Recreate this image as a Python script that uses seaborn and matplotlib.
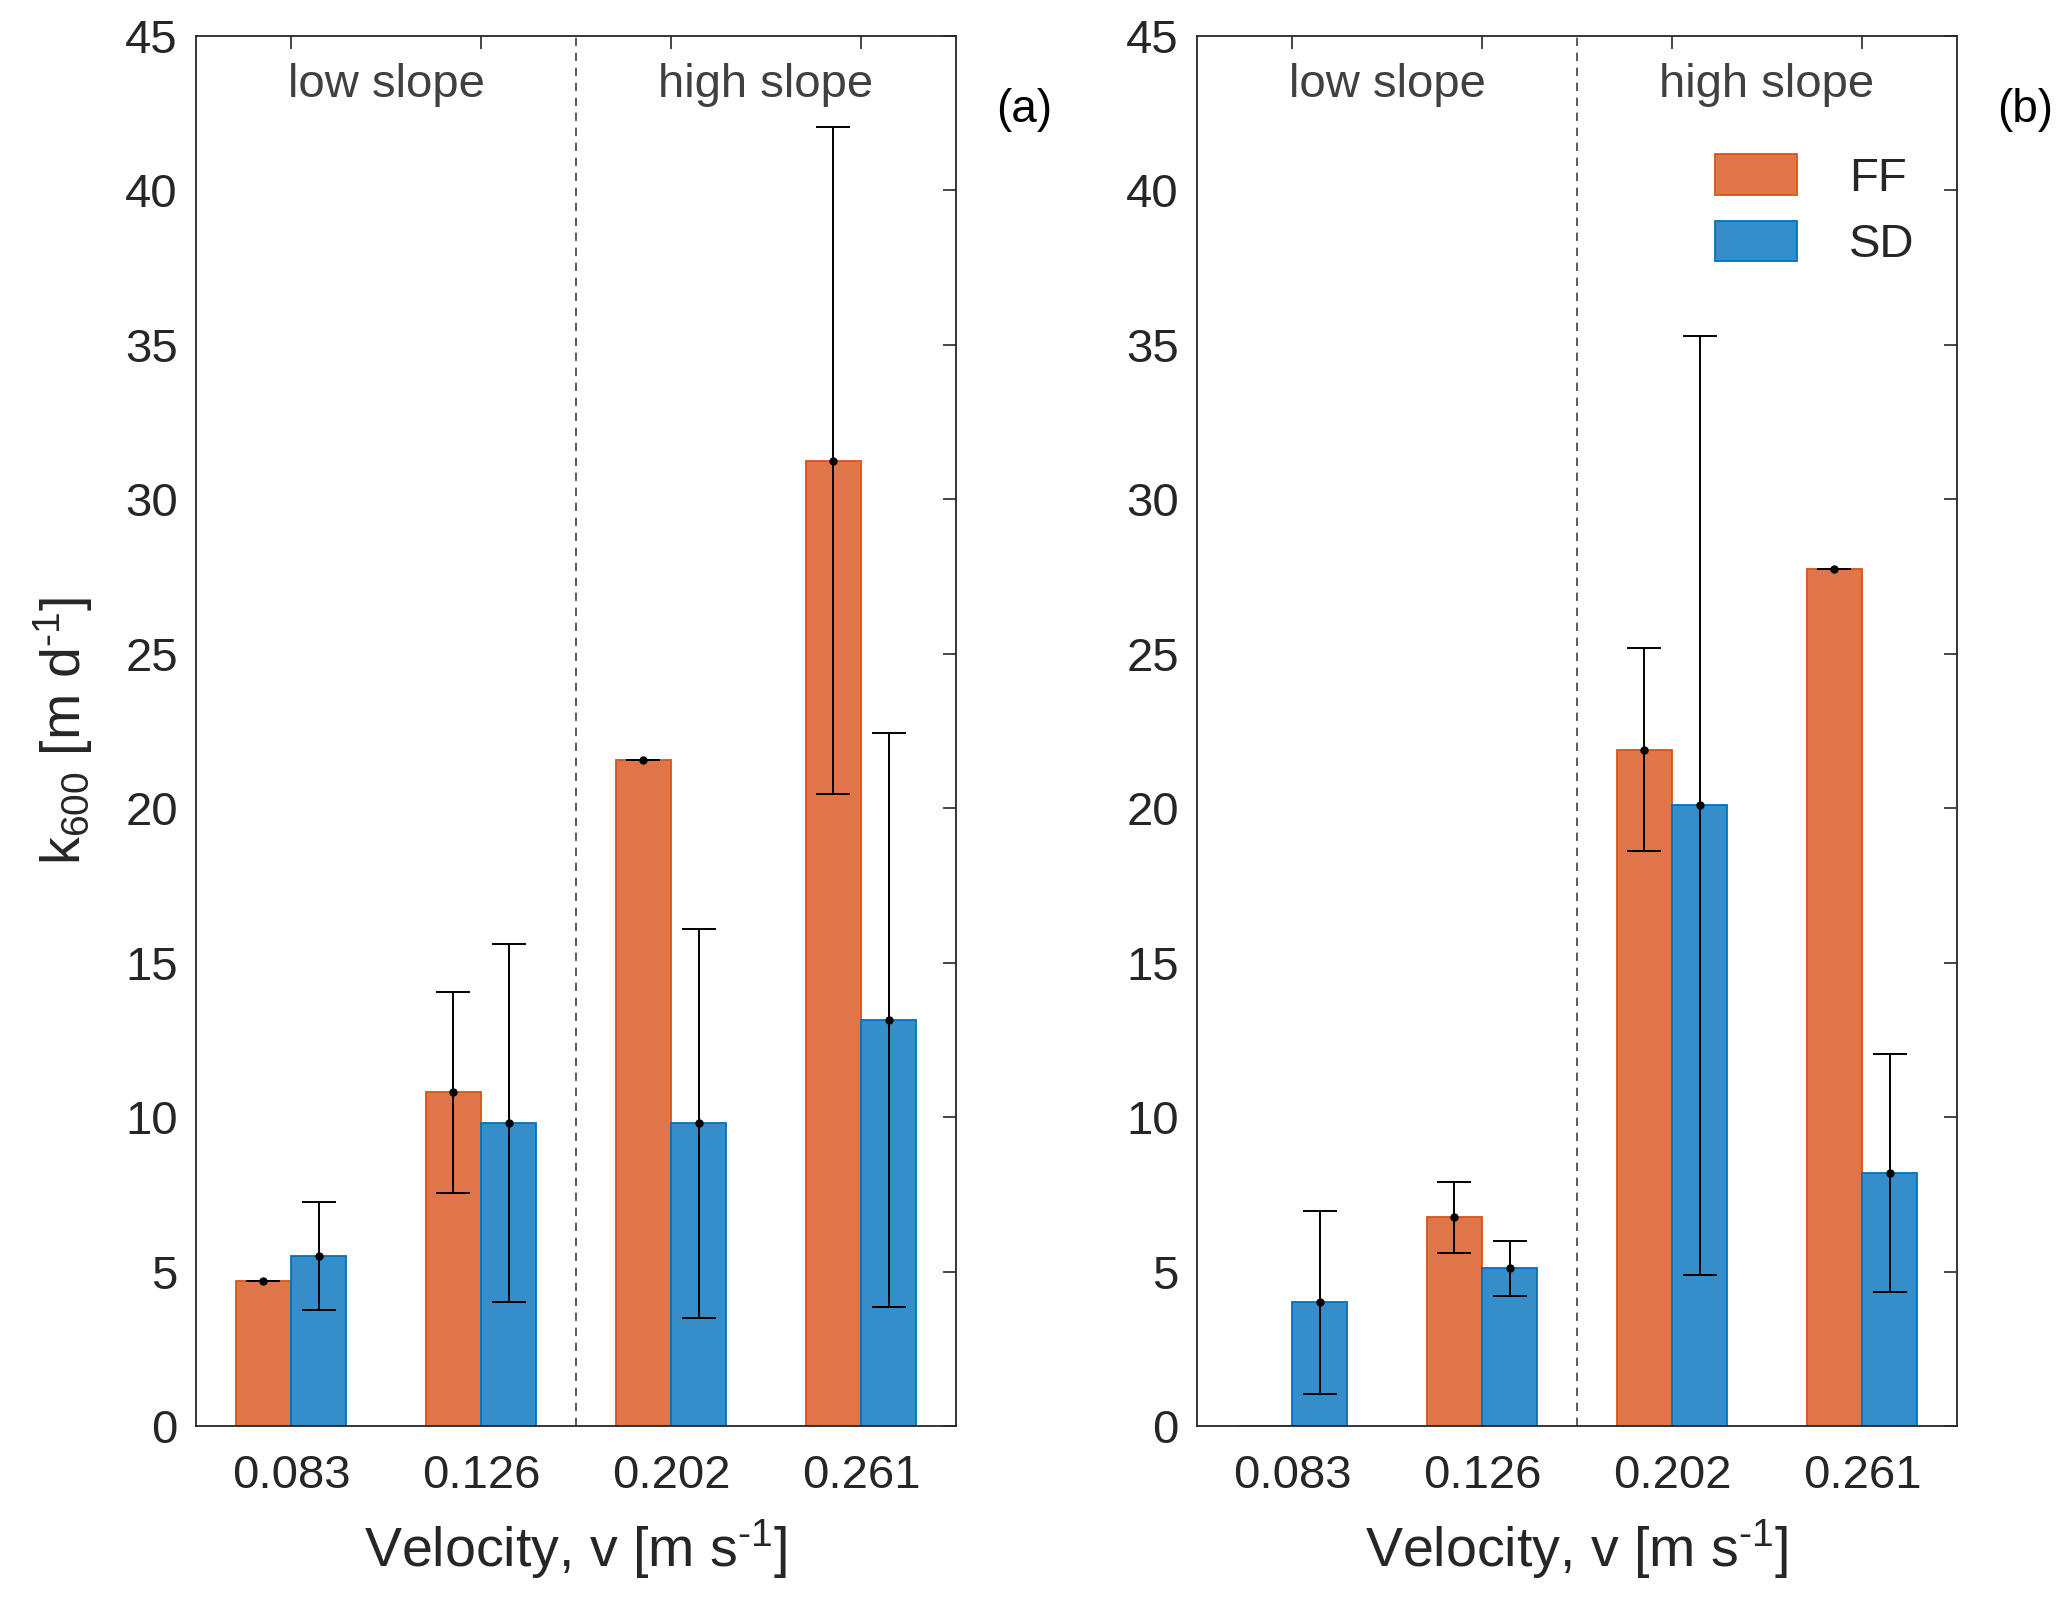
import numpy as np
import pandas as pd
import matplotlib
matplotlib.use("Agg")
import matplotlib.pyplot as plt
import seaborn as sns

# data
velocity = ["0.083", "0.126", "0.202", "0.261"]
methods = ["FF", "SD"]

# panel (a)
ff_a = [4.7, 10.8, 21.55, 31.25]
ff_a_err = [0.0, 3.25, 0.0, 10.8]
sd_a = [5.5, 9.8, 9.8, 13.15]
sd_a_err = [1.75, 5.8, 6.3, 9.3]

# panel (b)
ff_b = [0.0, 6.75, 21.9, 27.75]
ff_b_err = [np.nan, 1.15, 3.3, 0.0]
sd_b = [4.0, 5.1, 20.1, 8.2]
sd_b_err = [2.95, 0.88, 15.2, 3.85]

face_colors = {"FF": "#E07547", "SD": "#338ECA"}
edge_colors = {"FF": "#D95319", "SD": "#0072BD"}

sns.set_style("white")
plt.rcParams["font.family"] = ["Liberation Sans", "DejaVu Sans"]
plt.rcParams["mathtext.fontset"] = "custom"
plt.rcParams["mathtext.rm"] = "Liberation Sans"
plt.rcParams["mathtext.it"] = "Liberation Sans"
plt.rcParams["mathtext.default"] = "regular"

fig = plt.figure(figsize=(20.67, 15.99), dpi=100)
ax_a = fig.add_axes([0.0948, 0.1082, 0.3677, 0.8693])
ax_b = fig.add_axes([0.5791, 0.1082, 0.3677, 0.8693])


def draw_panel(ax, ff, ff_err, sd, sd_err, tag, show_legend):
    df = pd.DataFrame({
        "velocity": velocity * 2,
        "k600": ff + sd,
        "method": ["FF"] * len(velocity) + ["SD"] * len(velocity),
    })
    sns.barplot(data=df, x="velocity", y="k600", hue="method", order=velocity,
                hue_order=methods, palette=face_colors, saturation=1,
                width=0.58, errorbar=None, legend=False, ax=ax)

    errs = {"FF": ff_err, "SD": sd_err}
    vals = {"FF": ff, "SD": sd}
    for cont, m in zip(ax.containers, methods):
        for bar, v, e in zip(cont.patches, vals[m], errs[m]):
            bar.set_edgecolor(edge_colors[m])
            bar.set_linewidth(1.3)
            if np.isnan(e):
                continue
            xc = bar.get_x() + bar.get_width() / 2
            ax.errorbar(xc, v, yerr=e, fmt="o", color="k", ms=5,
                        capsize=12, elinewidth=1.4, capthick=1.4, zorder=5)

    ax.axvline(1.5, color="#404040", ls="--", lw=1.2, dashes=(5, 4), zorder=1)
    ax.text(0.5, 43.4, "low slope", ha="center", va="center",
            fontsize=34, color="#404040")
    ax.text(2.5, 43.4, "high slope", ha="center", va="center",
            fontsize=34, color="#404040")
    ax.text(1.09, 0.947, tag, transform=ax.transAxes, ha="center",
            va="center", fontsize=33, color="k")

    ax.set_xlim(-0.5, 3.5)
    ax.set_ylim(0, 45)
    ax.set_yticks(np.arange(0, 46, 5))
    ax.tick_params(direction="in", top=True, right=True, length=9.5,
                   width=1.2, labelsize=34, pad=13, colors="#262626")
    ax.tick_params(axis="x", pad=20)
    for s in ax.spines.values():
        s.set_visible(True)
        s.set_color("#262626")
        s.set_linewidth(1.3)
    ax.set_xlabel("Velocity, v [m s$^{\u20101}$]", fontsize=40, labelpad=14,
                  color="#262626")
    ax.set_ylabel("")

    if show_legend:
        ax.legend(ax.containers, methods, loc="upper left",
                  bbox_to_anchor=(0.681, 0.915), frameon=False,
                  borderpad=0, borderaxespad=0, fontsize=34,
                  handlelength=1.75, handleheight=0.95, handletextpad=1.1,
                  labelspacing=0.42)


draw_panel(ax_a, ff_a, ff_a_err, sd_a, sd_a_err, "(a)", False)
draw_panel(ax_b, ff_b, ff_b_err, sd_b, sd_b_err, "(b)", True)
ax_a.set_ylabel("k$_{600}$ [m d$^{\u20101}$]", fontsize=40, labelpad=22,
                color="#262626")

fig.savefig("out.png", dpi=100)
